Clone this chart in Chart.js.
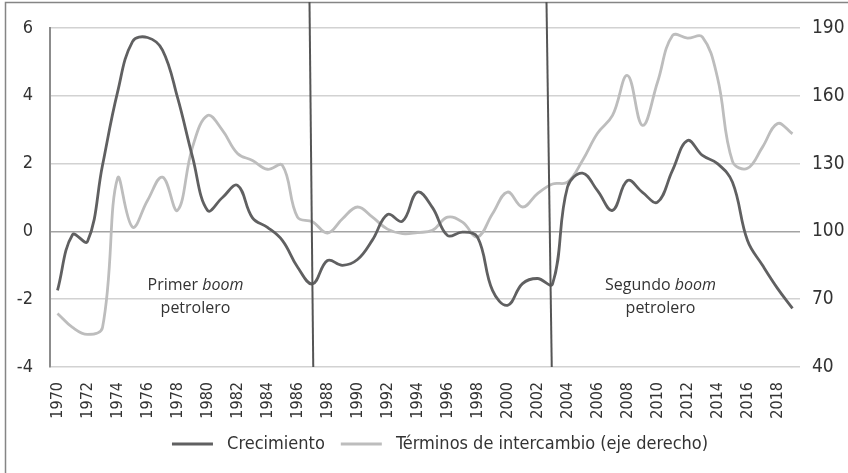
<!DOCTYPE html>
<html>
<head>
<meta charset="utf-8">
<script src="https://cdn.jsdelivr.net/npm/chart.js@4.4.1/dist/chart.umd.min.js"></script>
<style>
  body { margin: 0; background: #fff; }
  #wrap { width: 848px; height: 473px; position: relative; }
</style>
</head>
<body>
<div id="wrap"><canvas id="chart"></canvas></div>
<script>
const years = [
  "1970", "1971", "1972", "1973", "1974", "1975", "1976", "1977", "1978", "1979",
  "1980", "1981", "1982", "1983", "1984", "1985", "1986", "1987", "1988", "1989",
  "1990", "1991", "1992", "1993", "1994", "1995", "1996", "1997", "1998", "1999",
  "2000", "2001", "2002", "2003", "2004", "2005", "2006", "2007", "2008", "2009",
  "2010", "2011", "2012", "2013", "2014", "2015", "2016", "2017", "2018", "2019"
];

// Crecimiento (eje izquierdo)
const crecimiento = [
  -1.74, -0.1, -0.3, 1.95, 4.1, 5.6, 5.72, 5.35, 3.95, 2.2,
  0.62, 1.0, 1.36, 0.4, 0.12, -0.27, -1.05, -1.55, -0.86, -1.0,
  -0.83, -0.25, 0.5, 0.3, 1.16, 0.7, -0.12, -0.02, -0.17, -1.74,
  -2.18, -1.54, -1.39, -1.55, 1.31, 1.72, 1.2, 0.62, 1.5, 1.15,
  0.86, 1.8, 2.68, 2.24, 2.0, 1.45, -0.27, -1.0, -1.68, -2.27
];

// Términos de intercambio (eje derecho)
const terminos = [
  63.7, 57.5, 54.4, 57.5, 123.5, 101.9, 113.7, 124, 109.3, 137.3,
  151.3, 144.7, 134.5, 131.4, 127.5, 129.2, 106.3, 104.3, 99.3, 105.6,
  110.8, 106.3, 101, 99, 99.5, 100.5, 106.3, 104.1, 97.5, 107.8,
  117.4, 110.8, 116.7, 121, 121.8, 131.4, 143.4, 151.3, 169, 146.9,
  166, 186.7, 185.5, 186, 168, 131, 127.9, 137.3, 147.7, 143.2
];

const leftRange = [-4, 6];
const rightRange = [40, 190];

const NARROW = "'Liberation Sans Narrow', 'DejaVu Sans Condensed', 'Liberation Sans', sans-serif";
const DARK = "#606061";
const LIGHT = "#bdbdbd";

// vertical markers (category index, top -> bottom) and boom labels
const markers = [[16.8, 17.05], [32.6, 32.95]];
const boomLabels = [
  { idx: 9.2, first: "Primer ", italic: "boom" },
  { idx: 40.2, first: "Segundo ", italic: "boom" }
];

const extras = {
  id: "extras",
  afterDatasetsDraw(chart) {
    const { ctx, scales } = chart;
    const x = scales.x, y = scales.y;
    ctx.save();

    // frame
    ctx.strokeStyle = "#858585";
    ctx.lineWidth = 1.5;
    ctx.beginPath();
    ctx.moveTo(5.5, 473);
    ctx.lineTo(5.5, 2.5);
    ctx.lineTo(848, 2.5);
    ctx.stroke();

    // boom period lines
    ctx.strokeStyle = "#555";
    ctx.lineWidth = 2;
    markers.forEach(m => {
      ctx.beginPath();
      ctx.moveTo(x.getPixelForValue(m[0]), 2);
      ctx.lineTo(x.getPixelForValue(m[1]), y.bottom);
      ctx.stroke();
    });

    // labels
    ctx.fillStyle = "#333";
    ctx.textBaseline = "middle";
    ctx.textAlign = "left";
    boomLabels.forEach(b => {
      const cx = x.getPixelForValue(b.idx);
      const y1 = y.getPixelForValue(-1.6);
      const y2 = y.getPixelForValue(-2.27);
      ctx.font = "16px 'Open Sans', sans-serif";
      const w1 = ctx.measureText(b.first).width;
      ctx.font = "italic 16px 'Open Sans', sans-serif";
      const w2 = ctx.measureText(b.italic).width;
      let sx = cx - (w1 + w2) / 2;
      ctx.font = "16px 'Open Sans', sans-serif";
      ctx.fillText(b.first, sx, y1);
      ctx.font = "italic 16px 'Open Sans', sans-serif";
      ctx.fillText(b.italic, sx + w1, y1);
      ctx.font = "16px 'Open Sans', sans-serif";
      ctx.textAlign = "center";
      ctx.fillText("petrolero", cx, y2);
      ctx.textAlign = "left";
    });
    ctx.restore();
  }
};

new Chart(document.getElementById("chart"), {
  type: "line",
  data: {
    labels: years,
    datasets: [
      {
        label: "Crecimiento",
        data: crecimiento,
        borderColor: DARK,
        backgroundColor: DARK,
        borderWidth: 2.8,
        pointRadius: 0,
        tension: 0.4,
        yAxisID: "y"
      },
      {
        label: "Términos de intercambio (eje derecho)",
        data: terminos,
        borderColor: LIGHT,
        backgroundColor: LIGHT,
        borderWidth: 2.8,
        pointRadius: 0,
        tension: 0.4,
        yAxisID: "y1"
      }
    ]
  },
  options: {
    responsive: true,
    maintainAspectRatio: false,
    animation: false,
    // uneven side padding moves the legend centre right; axis widths make up for it
    layout: { padding: { top: 28, left: 10, right: -22, bottom: 10 } },
    plugins: {
      tooltip: { enabled: false },
      legend: {
        position: "bottom",
        labels: {
          color: "#333",
          font: { family: NARROW, size: 18 },
          boxWidth: 41,
          boxHeight: 3,
          padding: 16,
          generateLabels(chart) {
            const items = Chart.defaults.plugins.legend.labels.generateLabels(chart);
            items.forEach(i => { i.lineWidth = 0; i.text = " " + i.text; });
            return items;
          }
        }
      }
    },
    scales: {
      x: {
        offset: true,
        grid: { display: false, drawTicks: false },
        border: { display: false },
        ticks: {
          autoSkip: false,
          minRotation: 90,
          maxRotation: 90,
          padding: 15,
          color: "#333",
          font: { family: NARROW, size: 16 },
          callback: (v, i) => (i % 2 === 0 ? years[i] : null)
        },
        afterFit: s => { s.height = 52; }
      },
      y: {
        position: "left",
        min: leftRange[0],
        max: leftRange[1],
        grid: {
          drawTicks: false,
          lineWidth: 1.5,
          color: c => (c.tick && c.tick.value === 0 ? "#a3a3a3" : "#d2d2d2")
        },
        border: { display: true, color: "#8c8c8c", width: 2 },
        ticks: {
          stepSize: 2,
          padding: 17,
          color: "#333",
          font: { family: NARROW, size: 18 }
        },
        afterFit: s => { s.width = 40; }
      },
      y1: {
        position: "right",
        min: rightRange[0],
        max: rightRange[1],
        grid: { display: false, drawTicks: false },
        border: { display: false },
        ticks: {
          stepSize: 30,
          padding: 12,
          color: "#333",
          font: { family: NARROW, size: 19 }
        },
        afterFit: s => { s.width = 70; }
      }
    }
  },
  plugins: [extras]
});
</script>
</body>
</html>
